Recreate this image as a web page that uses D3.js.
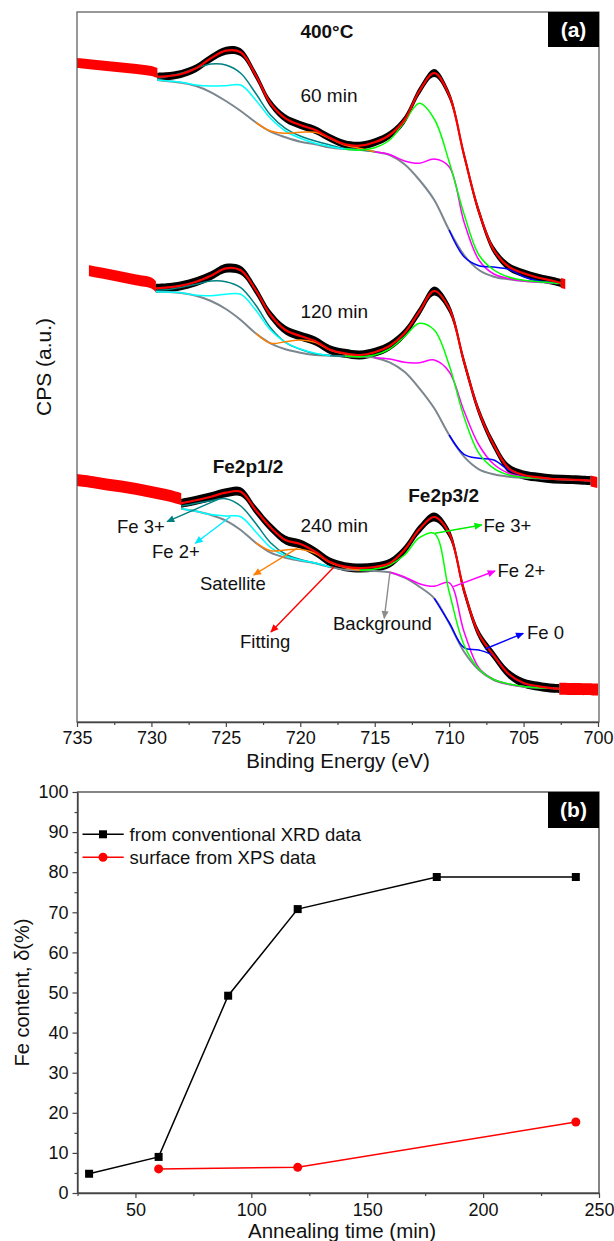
<!DOCTYPE html>
<html>
<head>
<meta charset="utf-8">
<script src="https://cdn.jsdelivr.net/npm/d3@7/dist/d3.min.js"></script>
<style>
  html, body { margin: 0; padding: 0; background: #ffffff; }
  svg { display: block; }
  text { font-family: "Liberation Sans", Arial, sans-serif; }
</style>
</head>
<body>
<svg id="chart" width="614" height="1241" xmlns="http://www.w3.org/2000/svg"></svg>
<script>
const nulls = n => Array(n).fill(null);

// ================= Panel (a): Fe 2p XPS spectra at 400 °C =================
const bindingTicks = [735, 730, 725, 720, 715, 710, 705, 700];
const bindingMinorTicks = [732.5, 727.5, 722.5, 717.5, 712.5, 707.5, 702.5];
const spectrumLabels = ["60 min", "120 min", "240 min"];
const spectrumLabelE = [719.99, 719.99, 719.99];
const spectrumLabelCPS = [616.5, 400, 186.5];

// ---- 60 min (CPS in arbitrary units) ----
const energy60 = [729.6,729,728,727,726,725,724,723,722,721,720,719,718,717,716,715,714,713,712,711,710,709,708,707,706,705,704,703,702.5];
const fit60 = [641.3,641.7,644,649.7,659.7,667.3,665.7,643,614.7,599.7,593,588,580,573.7,572.3,575.7,583,598,627,645,623,563,506.3,468,451.3,444.7,440.3,437,435];
const bg60 = [638,637,635.3,632,625.7,617,607,595.7,586.3,580.7,576.3,573.7,570.5,569,568,566.3,563,553.7,538,518,488,463,448,441.3,438.7,437,436,435,434.7];
const fe3b60 = [639.7,641.3,644.7,649.7,654,653,644.7,624.7,603,589.7,582,577,573,569.5,568.2,566.3, ...nulls(13)];
const fe2b60 = [638,637.2,635.8,633,632,632.3,633,618,599.7,587,579.7,574.7,571.5,569,568, ...nulls(14)];
const sat60 = [...nulls(7), 595.7,587,584.7,585.7,585.7,579.5,573,569.5,566.3, ...nulls(13)];
const fe3a60 = [...nulls(13), 569,568,570.3,578,596.3,614.7,599,556.3,504,463,448,441,437.7,436.3,435,434.7];
const fe2a60 = [...nulls(15), 566.3,563.5,557,554.7,559,551.3,496,458,444,439.5,437,436,435,434.7];
const fe0_60 = [...nulls(20), 488,461.3,452.3,451,448.7,441.3,437,435.3,434.7];
const tailE60L = [735,734,733,732,731,730,729.6];
const tail60L = [655,653.5,652,650.5,649,647,645];
const tailE60R = [702.5,702.2];
const tail60R = [435,434];

// ---- 120 min ----
const energy120 = [729.7,729,728,727,726,725,724,723,722,721,720,719,718,717,716,715,714,713,712,711,710,709,708,707,706,705,704,703,702,701,700.5];
const fit120 = [429.7,430.3,432.3,436.3,442.3,449.7,447.7,428,403,388,382,377,368.3,364.7,363,365.7,372,384.7,406.3,427,409.7,356.3,306.3,273,249.7,243,240.7,239,238.5,237.8,237.4];
const bg120 = [426.3,426,425,422.3,417,409,398,384.7,374.7,368.7,365.3,363,362.3,361.7,361.3,360.3,355.7,346.3,329.7,309.7,283,261.3,248.7,243.7,241.3,240.3,239.7,239,238.3,237.7,237.3];
const fe3b120 = [427.7,428.3,430.7,433.7,437,436.3,430.3,413,390.3,375.7,368.7,364.3,362.5,361.7, ...nulls(17)];
const fe2b120 = [426.3,426,425.2,422.7,422.3,423.7,423.7,408,388,375.7,369,364.7,362.3, ...nulls(18)];
const sat120 = [...nulls(7), 384.7,374.7,376.3,378,375.7,368,364,361.3, ...nulls(16)];
const fe3a120 = [...nulls(13), 361.7,361.3,363,369,381.3,394.7,388,353,301,264.7,249.7,243,240.7,239.7,239, ...nulls(3)];
const fe2a120 = [...nulls(15), 360.3,359,355.7,355.3,358,346.3,307,273,253.7,244.7,241,239.7,239, ...nulls(3)];
const fe0_120 = [...nulls(20), 283,263.7,259.7,258,248,242.3,239.7,239, ...nulls(3)];
const tailE120L = [734.2,733,732,731,730,729.7];
const tail120L = [447.3,444,441,438,435,431.3];
const tailE120R = [700.5,700.05];
const tail120R = [237,235.5];

// ---- 240 min ----
const energy240 = [728,727,726,725,724,723,722,721,720,719,718,717,716,715,714,713,712,711,710,709,708,707,706,705,704,703,702.6];
const fit240 = [214.7,217.7,221.3,225.3,226.3,208,190.7,178,174,166.3,156,151.3,150,151,154.7,168,188.7,201,184.7,127.3,83.7,62.5,44,35,31.7,29.7,29.3];
const bg240 = [209.3,206.7,203,197.3,188,175.3,165.3,160.3,157.3,154.7,151,148.3,147.7,147,145.7,140.3,131.3,119.7,94.7,66.3,48,38,33.7,31.3,30.3,29.7,29.3];
const fe3b240 = [212,214.7,217.3,219.3,212,194.7,175.3,164,158.5,155,151, ...nulls(16)];
const fe2b240 = [209.3,206.7,203.5,202,201.3,186.3,170.7,162,158,155,151, ...nulls(16)];
const sat240 = [...nulls(5), 175.3,167.3,168,168.7,164.7,155.5,150.5,147.7, ...nulls(14)];
const fe3a240 = [...nulls(12), 147.7,149,153,163,180.3,184.7,126.3,73,49,38.5,34,31.5,30.3,29.7, ...nulls(1)];
const fe2a240 = [...nulls(14), 145.7,141,134.3,131.7,135.3,86.3,50,38.5,33.7,31.3, ...nulls(3)];
const fe0_240 = [...nulls(17), 119.7,95.5,70.3,68,62,43.5,34.5,30.7,29.7, ...nulls(1)];
const tailE240L = [735,734,733,732,731,730,729,728];
const tail240L = [238,236,233.5,231.5,229,226,223,219];
const tailE240R = [702.6,701.5,700];
const tail240R = [29.3,29,28.5];

// noise half-widths of the raw data (same a.u.)
const noiseFit = [4, 4.5, 4.5];
const noiseTail = [5, 5.5, 6];

// annotations (energy, CPS a.u.)
const peakLabels = ["Fe2p1/2", "Fe2p3/2"];
const peakLabelE = [723.51, 710.37];
const peakLabelCPS = [245, 216];
const annotTexts = ["Fe 3+", "Fe 2+", "Satellite", "Fitting", "Background", "Fe 3+", "Fe 2+", "Fe 0"];
const annotTextE = [732.31, 729.96, 726.74, 724.05, 717.8, 707.69, 706.75, 704.77];
const annotTextCPS = [185, 160, 128, 70, 88, 186.5, 141, 79];
const arrowFromE = [725.37, 724.7, 720.22, 717.74, 713.97, 710.95, 709.72, 707.59];
const arrowFromCPS = [219.7, 201.3, 169.7, 151, 146.3, 184.7, 131.3, 69];
const arrowToE = [728.95, 727.05, 723.13, 721.97, 714.36, 707.81, 706.92, 705.02];
const arrowToCPS = [196.3, 174.7, 143, 86, 99.7, 193, 147, 84.7];
const arrowColors = ["#008080", "#00e8ff", "#ff7f00", "#ff0000", "#8c8c8c", "#00ee00", "#ff00ff", "#0000ff"];

// ================= Panel (b): Fe content =================
const timeXRD = [30, 60, 90, 120, 180, 240];
const feXRD = [4.8, 9, 49.2, 70.8, 78.8, 78.8];
const timeXPS = [60, 120, 240];
const feXPS = [6, 6.4, 17.7];
const legendLabels = ["from conventional XRD data", "surface from XPS data"];
const timeTicks = [50, 100, 150, 200, 250];
const timeMinorTicks = [25, 75, 125, 175, 225];
const feTicks = [0, 10, 20, 30, 40, 50, 60, 70, 80, 90, 100];
const feMinorTicks = [5, 15, 25, 35, 45, 55, 65, 75, 85, 95];

// ====================== drawing ======================
const svg = d3.select("#chart");
svg.append("rect").attr("width", 614).attr("height", 1241).attr("fill", "#ffffff");
const defs = svg.append("defs");
arrowColors.forEach((c, i) => {
  defs.append("marker").attr("id", "ah" + i)
    .attr("viewBox", "0 0 10 10").attr("refX", 9).attr("refY", 5)
    .attr("markerWidth", 9).attr("markerHeight", 8)
    .attr("markerUnits", "userSpaceOnUse").attr("orient", "auto")
    .append("path").attr("d", "M0,0.5 L10,5 L0,9.5 z").attr("fill", c);
});

// ---- panel (a) ----
const xA = d3.scaleLinear().domain([735, 700]).range([77, 598]);
const yA = d3.scaleLinear().domain([-4, 706]).range([722, 12]);
const gA = svg.append("g");
const zip = (E, V) => E.map((e, i) => [e, V[i]]);
const lineA = d3.line().defined(d => d[1] !== null)
  .x(d => xA(d[0])).y(d => yA(d[1])).curve(d3.curveCatmullRom.alpha(0.5));
const bandA = hw => d3.area().x(d => xA(d[0]))
  .y0(d => yA(d[1] - hw)).y1(d => yA(d[1] + hw)).curve(d3.curveCatmullRom.alpha(0.5));

const spectra = [
  {E: energy60, fit: fit60, bg: bg60, comps: [fe3b60, fe2b60, sat60, fe2a60, fe0_60, fe3a60], tl: [tailE60L, tail60L], tr: [tailE60R, tail60R]},
  {E: energy120, fit: fit120, bg: bg120, comps: [fe3b120, fe2b120, sat120, fe2a120, fe0_120, fe3a120], tl: [tailE120L, tail120L], tr: [tailE120R, tail120R]},
  {E: energy240, fit: fit240, bg: bg240, comps: [fe3b240, fe2b240, sat240, fe2a240, fe0_240, fe3a240], tl: [tailE240L, tail240L], tr: [tailE240R, tail240R]}
];
const compColors = ["#008080", "#00ffff", "#ff7f00", "#ff00ff", "#0000ff", "#00ff00"];

spectra.forEach((s, i) => {
  const g = gA.append("g");
  [s.tl, s.tr].forEach(t => {
    g.append("path").datum(zip(t[0], t[1])).attr("d", bandA(noiseTail[i])).attr("fill", "#ff0000");
  });
  g.append("path").datum(zip(s.E, s.fit)).attr("d", bandA(noiseFit[i])).attr("fill", "#000000");
  g.append("path").datum(zip(s.E, s.bg)).attr("d", lineA)
    .attr("fill", "none").attr("stroke", "#7c868e").attr("stroke-width", 2);
  s.comps.forEach((c, k) => {
    g.append("path").datum(zip(s.E, c)).attr("d", lineA)
      .attr("fill", "none").attr("stroke", compColors[k]).attr("stroke-width", 1.5);
  });
  g.append("path").datum(zip(s.E, s.fit)).attr("d", lineA)
    .attr("fill", "none").attr("stroke", "#ff0000").attr("stroke-width", 2.2);
  g.append("text").attr("x", xA(spectrumLabelE[i])).attr("y", yA(spectrumLabelCPS[i]))
    .attr("font-size", 19).attr("fill", "#111").text(spectrumLabels[i]);
});

// frame and axis (a)
gA.append("rect").attr("x", 77).attr("y", 12).attr("width", 522).attr("height", 710)
  .attr("fill", "none").attr("stroke", "#555").attr("stroke-width", 1.2);
const axA = gA.append("g").attr("transform", "translate(0,722)")
  .call(d3.axisBottom(xA).tickValues(bindingTicks).tickSize(5).tickSizeOuter(0).tickPadding(4).tickFormat(d3.format("d")));
gA.append("g").attr("transform", "translate(0,722)")
  .call(d3.axisBottom(xA).tickValues(bindingMinorTicks).tickSize(3).tickSizeOuter(0).tickFormat(""))
  .select(".domain").remove();
axA.select(".domain").attr("stroke", "#444").attr("stroke-width", 1.6);
gA.selectAll(".tick line").attr("stroke", "#444").attr("stroke-width", 1.2);
axA.selectAll(".tick text").attr("font-size", 18).attr("fill", "#111")
  .attr("font-family", '"Liberation Sans", Arial, sans-serif');

gA.append("text").attr("x", 338).attr("y", 768).attr("text-anchor", "middle")
  .attr("font-size", 20.5).attr("fill", "#111").text("Binding Energy (eV)");
gA.append("text").attr("transform", "translate(51,367) rotate(-90)").attr("text-anchor", "middle")
  .attr("font-size", 21).attr("fill", "#111").text("CPS (a.u.)");
gA.append("text").attr("x", xA(718.21)).attr("y", 38).attr("text-anchor", "middle")
  .attr("font-size", 19).attr("font-weight", "bold").attr("fill", "#111").text("400°C");

peakLabels.forEach((t, i) => {
  gA.append("text").attr("x", xA(peakLabelE[i])).attr("y", yA(peakLabelCPS[i])).attr("text-anchor", "middle")
    .attr("font-size", 19).attr("font-weight", "bold").attr("fill", "#111").text(t);
});
annotTexts.forEach((t, i) => {
  gA.append("line")
    .attr("x1", xA(arrowFromE[i])).attr("y1", yA(arrowFromCPS[i]))
    .attr("x2", xA(arrowToE[i])).attr("y2", yA(arrowToCPS[i]))
    .attr("stroke", arrowColors[i]).attr("stroke-width", 1.4).attr("marker-end", "url(#ah" + i + ")");
  gA.append("text").attr("x", xA(annotTextE[i])).attr("y", yA(annotTextCPS[i]))
    .attr("font-size", 18.5).attr("fill", "#111").text(t);
});

// label box (a)
gA.append("rect").attr("x", 548).attr("y", 12).attr("width", 51).attr("height", 35).attr("fill", "#000");
gA.append("text").attr("x", 573.5).attr("y", 37).attr("text-anchor", "middle")
  .attr("font-family", '"DejaVu Sans", sans-serif').attr("font-weight", "bold")
  .attr("font-size", 21).attr("fill", "#fff").text("(a)");

// ---- panel (b) ----
const xB = d3.scaleLinear().domain([25, 250]).range([77.5, 599]);
const yB = d3.scaleLinear().domain([0, 100]).range([1193, 792]);
const gB = svg.append("g");
gB.append("rect").attr("x", 77.5).attr("y", 792).attr("width", 521.5).attr("height", 401)
  .attr("fill", "none").attr("stroke", "#444").attr("stroke-width", 1.3);

const axBx = gB.append("g").attr("transform", "translate(0,1193)")
  .call(d3.axisBottom(xB).tickValues(timeTicks).tickSize(5).tickSizeOuter(0).tickPadding(5).tickFormat(d3.format("d")));
gB.append("g").attr("transform", "translate(0,1193)")
  .call(d3.axisBottom(xB).tickValues(timeMinorTicks).tickSize(3).tickSizeOuter(0).tickFormat(""))
  .select(".domain").remove();
const axBy = gB.append("g").attr("transform", "translate(77.5,0)")
  .call(d3.axisLeft(yB).tickValues(feTicks).tickSize(5).tickSizeOuter(0).tickPadding(4).tickFormat(d3.format("d")));
gB.append("g").attr("transform", "translate(77.5,0)")
  .call(d3.axisLeft(yB).tickValues(feMinorTicks).tickSize(3).tickSizeOuter(0).tickFormat(""))
  .select(".domain").remove();
[axBx, axBy].forEach(a => {
  a.select(".domain").attr("stroke", "#444").attr("stroke-width", 1.3);
  a.selectAll(".tick text").attr("font-size", 18).attr("fill", "#111")
    .attr("font-family", '"Liberation Sans", Arial, sans-serif');
});
gB.selectAll(".tick line").attr("stroke", "#444").attr("stroke-width", 1.2);

const lineB = d3.line().x(d => xB(d[0])).y(d => yB(d[1]));
gB.append("path").datum(zip(timeXRD, feXRD)).attr("d", lineB)
  .attr("fill", "none").attr("stroke", "#000").attr("stroke-width", 1.5);
gB.append("path").datum(zip(timeXPS, feXPS)).attr("d", lineB)
  .attr("fill", "none").attr("stroke", "#ff0000").attr("stroke-width", 1.5);
gB.selectAll(".sq").data(zip(timeXRD, feXRD)).enter().append("rect")
  .attr("x", d => xB(d[0]) - 4).attr("y", d => yB(d[1]) - 4).attr("width", 8).attr("height", 8).attr("fill", "#000");
gB.selectAll(".ci").data(zip(timeXPS, feXPS)).enter().append("circle")
  .attr("cx", d => xB(d[0])).attr("cy", d => yB(d[1])).attr("r", 4.5).attr("fill", "#ff0000");

// legend
const legY = [834.3, 857.3];
const legColor = ["#000", "#ff0000"];
legendLabels.forEach((t, i) => {
  gB.append("line").attr("x1", 82.5).attr("x2", 123.7).attr("y1", legY[i]).attr("y2", legY[i])
    .attr("stroke", legColor[i]).attr("stroke-width", 1.5);
  if (i === 0) gB.append("rect").attr("x", 99).attr("y", legY[i] - 4).attr("width", 8).attr("height", 8).attr("fill", "#000");
  else gB.append("circle").attr("cx", 103).attr("cy", legY[i]).attr("r", 4.5).attr("fill", "#ff0000");
  gB.append("text").attr("x", 129.6).attr("y", legY[i]).attr("dy", "0.35em")
    .attr("font-size", 18.5).attr("fill", "#111").text(t);
});

gB.append("rect").attr("x", 548).attr("y", 792).attr("width", 51).attr("height", 36).attr("fill", "#000");
gB.append("text").attr("x", 573.5).attr("y", 817).attr("text-anchor", "middle")
  .attr("font-family", '"DejaVu Sans", sans-serif').attr("font-weight", "bold")
  .attr("font-size", 21).attr("fill", "#fff").text("(b)");

gB.append("text").attr("transform", "translate(29,992.5) rotate(-90)").attr("text-anchor", "middle")
  .attr("font-size", 20).attr("fill", "#111").text("Fe content, δ(%)");
gB.append("text").attr("x", 342).attr("y", 1238).attr("text-anchor", "middle")
  .attr("font-size", 20.5).attr("fill", "#111").text("Annealing time (min)");
</script>
</body>
</html>
